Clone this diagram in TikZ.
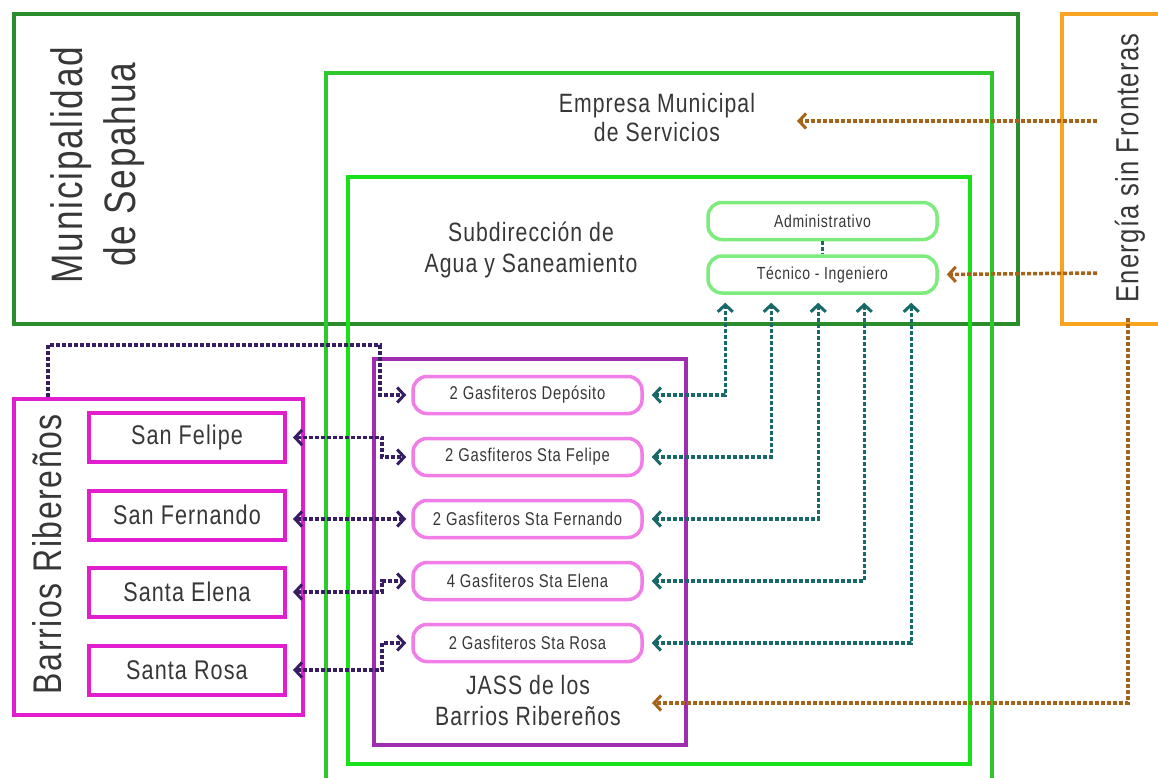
\documentclass[tikz,border=0pt]{standalone}
\usepackage{fontspec}
\setmainfont[FakeStretch=0.8,LetterSpace=4]{Liberation Sans}
\usetikzlibrary{arrows.meta}
\definecolor{muni}{RGB}{42,140,42}
\definecolor{empresa}{RGB}{45,200,45}
\definecolor{subdir}{RGB}{25,225,25}
\definecolor{energia}{RGB}{247,165,32}
\definecolor{barrio}{RGB}{225,30,205}
\definecolor{jass}{RGB}{160,45,175}
\definecolor{gasf}{RGB}{240,125,232}
\definecolor{admin}{RGB}{125,235,125}
\definecolor{tealc}{RGB}{25,105,105}
\definecolor{purpc}{RGB}{55,30,100}
\definecolor{brownc}{RGB}{165,100,25}
\definecolor{txt}{RGB}{55,55,55}
\begin{document}
\begin{tikzpicture}[x=1pt,y=-1pt,
  bigbox/.style={draw=#1,line width=4pt,anchor=north west,inner sep=0pt},
  rbox/.style={draw=#1,line width=3.5pt,rounded corners=14pt,minimum width=229pt,minimum height=37pt,inner sep=0pt,text=txt,font=\fontsize{18.5}{22}\selectfont},
  sbox/.style={draw=barrio,line width=4pt,minimum width=196pt,minimum height=49pt,inner sep=0pt,text=txt,font=\fontsize{27}{32}\selectfont},
  lbl/.style={text=txt,align=center,inner sep=0pt},
  conn/.style={line width=3.5pt,dash pattern=on 4pt off 2pt},
  tarr/.style={conn,draw=tealc,{Straight Barb[length=7pt,width=15pt,line width=3pt]}-{Straight Barb[length=7pt,width=15pt,line width=3pt]},shorten <=8pt,shorten >=8pt},
  parr/.style={conn,draw=purpc,{Straight Barb[length=7pt,width=15pt,line width=3pt]}-{Straight Barb[length=7pt,width=15pt,line width=3pt]},shorten <=6pt,shorten >=5pt},
  barr/.style={conn,draw=brownc,-{Straight Barb[length=7pt,width=15pt,line width=3pt]}}
]
\useasboundingbox (0,0) rectangle (1158,778);

% big boxes
\node[bigbox=muni,minimum width=1004pt,minimum height=310pt] (muniBox) at (12,12) {};
\node[bigbox=energia,minimum width=120pt,minimum height=310pt] (enerBox) at (1060,12) {};
\node[bigbox=empresa,minimum width=666pt,minimum height=730pt] (empBox) at (324,71) {};
\node[bigbox=subdir,minimum width=622pt,minimum height=587pt] (subBox) at (346,175) {};
\node[bigbox=jass,minimum width=312pt,minimum height=386pt] (jassBox) at (372,357) {};
\node[bigbox=barrio,minimum width=289pt,minimum height=316pt] (barBox) at (12,397) {};

% labels
\node[lbl,rotate=90,font=\fontsize{44}{53}\selectfont] (muniLbl) at (98,165) {Municipalidad\\de Sepahua};
\node[lbl,rotate=90,font=\fontsize{32}{40}\selectfont] (enerLbl) at (1130,168) {Energía sin Fronteras};
\node[lbl,rotate=90,font=\fontsize{40}{48}\selectfont] (barLbl) at (47,554) {Barrios Ribereños};
\node[lbl,font=\fontsize{26.5}{29}\selectfont] (empLbl) at (657,118) {Empresa Municipal\\de Servicios};
\node[lbl,font=\fontsize{26.5}{31}\selectfont] (subLbl) at (531,250) {Subdirección de\\Agua y Saneamiento};
\node[lbl,font=\fontsize{26.5}{31}\selectfont] (jassLbl) at (528,701) {JASS de los\\Barrios Ribereños};

% rounded boxes
\node[rbox=admin,font=\fontsize{17.5}{22}\selectfont] (adm) at (822.5,221) {Administrativo};
\node[rbox=admin,font=\fontsize{17.5}{22}\selectfont] (tec) at (822.5,274.5) {Técnico - Ingeniero};
\node[rbox=gasf] (g1) at (527.5,395) {2 Gasfiteros Depósito};
\node[rbox=gasf] (g2) at (527.5,457) {2 Gasfiteros Sta Felipe};
\node[rbox=gasf] (g3) at (527.5,519) {2 Gasfiteros Sta Fernando};
\node[rbox=gasf] (g4) at (527.5,581) {4 Gasfiteros Sta Elena};
\node[rbox=gasf] (g5) at (527.5,643) {2 Gasfiteros Sta Rosa};

% barrio boxes
\node[sbox] (sf) at (187,437.5) {San Felipe};
\node[sbox] (sfe) at (187,515) {San Fernando};
\node[sbox] (se) at (187,592) {Santa Elena};
\node[sbox] (sr) at (187,670) {Santa Rosa};

% teal connectors
\draw[conn,draw=tealc] (adm.south) -- (tec.north);
\draw[tarr] (g1.east) -| ([xshift=19pt]tec.south west);
\draw[tarr] (g2.east) -| ([xshift=65pt]tec.south west);
\draw[tarr] (g3.east) -| ([xshift=112pt]tec.south west);
\draw[tarr] (g4.east) -| ([xshift=158pt]tec.south west);
\draw[tarr] (g5.east) -| ([xshift=205pt]tec.south west);

% purple connectors
\coordinate (pTop) at (380,345);
\draw[conn,draw=purpc,-{Straight Barb[length=7pt,width=15pt,line width=3pt]},shorten >=5pt] ([xshift=36pt]barBox.north west) |- (pTop) |- (g1.west);
\draw[parr] (sf.east) -- ++(95,0) |- (g2.west);
\draw[parr] (sfe.east |- g3.west) -- (g3.west);
\draw[parr] (se.east) -- ++(95,0) |- (g4.west);
\draw[parr] (sr.east) -- ++(95,0) |- (g5.west);

% brown connectors
\coordinate (e1) at (1097,121);
\coordinate (e1t) at (797,121);
\coordinate (e2) at (1097,273);
\coordinate (e3) at (1128,318);
\coordinate (e3t) at (652,703);
\draw[barr] (e1) -- (e1t);
\draw[barr,shorten >=8pt] (e2) -- (tec.east);
\draw[barr] (e3) |- (e3t);
\end{tikzpicture}
\end{document}
